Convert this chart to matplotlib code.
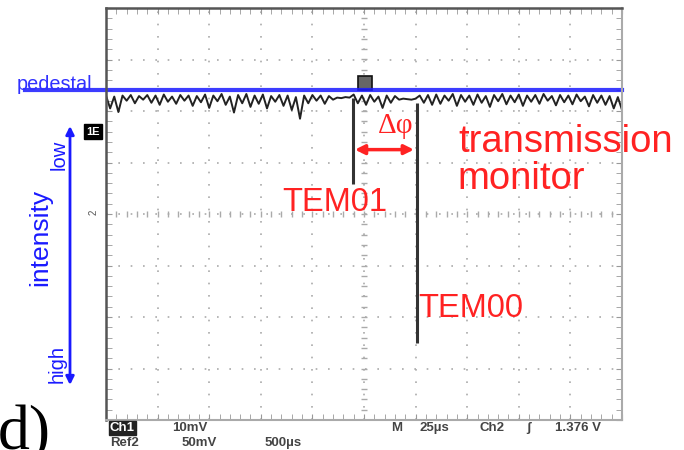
import numpy as np
import matplotlib.pyplot as plt

plt.rcParams['font.family'] = ['Liberation Sans', 'DejaVu Sans']

# scope trace (time in us, signal in divisions)
t_start, t_step = -125, 2
trace = [2.30, 2.05, 2.28, 1.98, 2.30, 2.20, 2.31, 2.15, 2.29, 2.22,
         2.31, 2.16, 2.30, 2.12, 2.32, 2.18, 2.28, 2.14, 2.31, 2.20,
         2.30, 2.10, 2.29, 2.17, 2.32, 2.06, 2.30, 2.19, 2.33, 2.12,
         2.28, 1.97, 2.31, 2.15, 2.33, 2.08, 2.30, 2.14, 2.32, 2.05,
         2.29, 2.18, 2.31, 2.10, 2.30, 2.02, 2.27, 1.85, 2.30, 2.15,
         2.31, 2.20, 2.30, 2.14, 2.29, 2.22, 2.26, 2.25, 2.27, 2.26,
         2.32, 2.15, 2.30, 2.12, 2.31, 2.18, 2.28, 2.06, 2.30, 2.16,
         2.29, 2.22, 2.24, 2.23, 2.22, 2.24, 2.30, 2.16, 2.31, 2.12,
         2.32, 2.14, 2.30, 2.20, 2.33, 2.10, 2.31, 2.18, 2.30, 2.12,
         2.32, 2.16, 2.29, 2.08, 2.31, 2.19, 2.33, 2.13, 2.30, 2.17,
         2.32, 2.10, 2.30, 2.18, 2.31, 2.14, 2.33, 2.20, 2.29, 2.11,
         2.31, 2.17, 2.30, 2.13, 2.32, 2.19, 2.28, 2.09, 2.31, 2.16,
         2.30, 2.12, 2.29, 2.05, 2.27, 2.02]
t = t_start + t_step * np.arange(len(trace))

# resonance dips
spike_t = [-5.3, 25.7]
spike_top = [2.25, 2.15]
spike_bottom = [0.58, -2.50]
spike_names = ['TEM01', 'TEM00']

pedestal = 2.40
trig_t, trig_v = 0.5, 2.55

# red / blue annotations
dphi_t = [-4.4, 24.2]
dphi_v = 1.25

W, H = 684, 450
fig = plt.figure(figsize=(W / 100, H / 100), dpi=100)
ax = fig.add_axes([106 / W, 1 - 420 / H, 516 / W, 412 / H])
ax.set_xlim(-125, 125)
ax.set_ylim(-4, 4)

# graticule
ax.set_xticks(np.arange(-125, 126, 25))
ax.set_yticks(np.arange(-4, 5, 1))
ax.set_xticks(np.arange(-125, 126, 5), minor=True)
ax.set_yticks(np.arange(-4, 4.01, 0.2), minor=True)
ax.tick_params(which='both', direction='in', length=4, color='#999',
               top=True, right=True, labelbottom=False, labelleft=False)
ax.grid(which='major', color='#aaa', lw=1.2, linestyle=(0, (1, 6.4)))
ax.plot(np.arange(-125, 126, 5), np.zeros(51), ls='none', marker='|', ms=5, color='#aaa')
ax.plot(np.zeros(41), np.arange(-4, 4.01, 0.2), ls='none', marker='_', ms=5, color='#aaa')
for side in ['left', 'top']:
    ax.spines[side].set_color('#555')
    ax.spines[side].set_linewidth(1.8)
for side in ['right', 'bottom']:
    ax.spines[side].set_color('#aaa')
    ax.spines[side].set_linewidth(1.5)

# trace
ax.plot(t, trace, color='#222', lw=1.4)
ax.vlines(spike_t, spike_bottom, spike_top, color='#333', lw=2.2)
ax.plot(trig_t, trig_v, marker='s', ms=10, mfc='#666', mec='#111', mew=1.2)

# pedestal line
ax.axhline(pedestal, xmin=-0.157, xmax=1, color='#1a1aff', lw=3, alpha=0.85, clip_on=False)
fig.text(17 / W, 1 - 90 / H, 'pedestal', color='#3030ff', fontsize=14.3, va='baseline')

# ground markers
ax.text(-131.5, 1.6, '1E', color='white', fontsize=8, fontweight='bold', ha='center', va='center',
        bbox=dict(boxstyle='square,pad=0.2', fc='black', ec='black'), clip_on=False)
ax.text(-131, 0.04, '2', color='#555', fontsize=7, ha='center', va='center', rotation=90, clip_on=False)

# red annotations
red = '#ff2222'
ax.annotate('', xy=(dphi_t[0], dphi_v), xytext=(dphi_t[1], dphi_v),
            arrowprops=dict(arrowstyle='<|-|>', color=red, lw=2.5, mutation_scale=14,
                            shrinkA=0, shrinkB=0))
ax.text(15.5, 1.70, 'Δφ', color=red, fontsize=21, family='Liberation Serif', ha='center', va='center')
ax.text(-14, 0.23, spike_names[0], color=red, fontsize=23.5, ha='center', va='center')
ax.text(51.8, -1.83, spike_names[1], color=red, fontsize=23.5, ha='center', va='center')
ax.text(45.5, 1.40, 'transmission', color=red, fontsize=27.5, ha='left', va='center', clip_on=False)
ax.text(45.5, 0.68, 'monitor', color=red, fontsize=27.5, ha='left', va='center', clip_on=False)

# intensity arrow
blue = '#1a1aff'
ax.annotate('', xy=(70 / W, 1 - 126 / H), xytext=(70 / W, 1 - 385 / H),
            xycoords='figure fraction', textcoords='figure fraction',
            arrowprops=dict(arrowstyle='<|-|>', color=blue, lw=2, mutation_scale=12,
                            shrinkA=0, shrinkB=0))
fig.text(59 / W, 1 - 155 / H, 'low', color=blue, fontsize=14.5, rotation=90, ha='center', va='center')
fig.text(40 / W, 1 - 237 / H, 'intensity', color=blue, fontsize=19, rotation=90, ha='center', va='center')
fig.text(57 / W, 1 - 364 / H, 'high', color=blue, fontsize=14.5, rotation=90, ha='center', va='center')

# scope status line
gray = '#444'
fs = 9.5
fig.text(110 / W, 1 - 428 / H, 'Ch1', color='white', fontsize=fs, fontweight='bold', va='center',
         bbox=dict(boxstyle='square,pad=0.1', fc='#222', ec='#222'))
fig.text(172 / W, 1 - 428 / H, '10mV', color=gray, fontsize=fs, fontweight='bold', va='center')
fig.text(110 / W, 1 - 443 / H, 'Ref2', color=gray, fontsize=fs, fontweight='bold', va='center')
fig.text(182 / W, 1 - 443 / H, '50mV', color=gray, fontsize=fs, fontweight='bold', va='center')
fig.text(265 / W, 1 - 443 / H, '500µs', color=gray, fontsize=fs, fontweight='bold', va='center')
fig.text(391 / W, 1 - 428 / H, 'M', color=gray, fontsize=fs, fontweight='bold', va='center')
fig.text(420 / W, 1 - 428 / H, '25µs', color=gray, fontsize=fs, fontweight='bold', va='center')
fig.text(479 / W, 1 - 428 / H, 'Ch2', color=gray, fontsize=fs, fontweight='bold', va='center')
fig.text(526 / W, 1 - 428 / H, 'ʃ', color=gray, fontsize=fs, fontweight='bold', va='center')
fig.text(555 / W, 1 - 428 / H, '1.376 V', color=gray, fontsize=fs, fontweight='bold', va='center')

fig.text(-2 / W, 1 - 449 / H, 'd)', color='black', fontsize=46, family='Liberation Serif', va='baseline')

fig.savefig('out.png', dpi=100)
